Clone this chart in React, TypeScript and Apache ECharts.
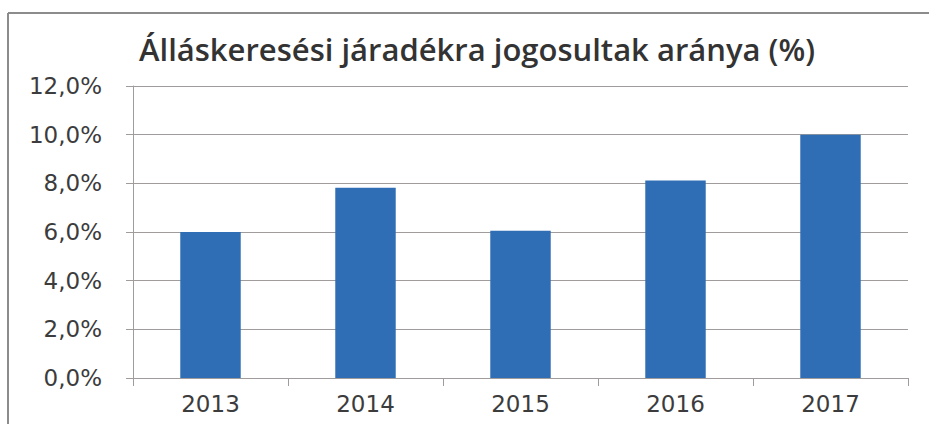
import React, { useEffect, useRef } from "react";
import * as echarts from "echarts";

const TITLE = "Álláskeresési járadékra jogosultak aránya (%)";
const YEARS = ["2013", "2014", "2015", "2016", "2017"];
const SHARE = [6.0, 7.82, 6.05, 8.12, 10.0];
const Y_MIN = 0;
const Y_MAX = 12;
const Y_STEP = 2;

export default function App() {
  const ref = useRef<HTMLDivElement>(null);
  useEffect(() => {
    if (!ref.current) return;
    const chart = echarts.init(ref.current, undefined, { renderer: "svg" });
    const gridColor = "#a09c9c";
    const textColor = "#3c3c3c";
    chart.setOption({
      animation: false,
      backgroundColor: "#ffffff",
      title: {
        text: TITLE,
        left: 472,
        top: 28,
        textAlign: "center",
        textStyle: {
          fontFamily: "Open Sans",
          fontWeight: 600,
          fontSize: 31,
          color: "#333333",
        },
      },
      graphic: [
        {
          type: "line",
          shape: { x1: 8, y1: 13, x2: 929, y2: 13 },
          style: { stroke: "#8c8c8c", lineWidth: 2 },
        },
        {
          type: "line",
          shape: { x1: 8, y1: 13, x2: 8, y2: 424 },
          style: { stroke: "#8c8c8c", lineWidth: 2 },
        },
      ],
      grid: { left: 133, right: 21, top: 86, bottom: 46, containLabel: false },
      xAxis: {
        type: "category",
        data: YEARS,
        boundaryGap: true,
        axisLine: { show: true, lineStyle: { color: gridColor, width: 1 } },
        axisTick: { show: true, length: 8, alignWithLabel: false, lineStyle: { color: gridColor } },
        axisLabel: {
          margin: 14,
          color: textColor,
          fontFamily: "DejaVu Sans",
          fontSize: 23,
        },
      },
      yAxis: {
        type: "value",
        min: Y_MIN,
        max: Y_MAX,
        interval: Y_STEP,
        axisLine: { show: true, lineStyle: { color: gridColor, width: 1 } },
        axisTick: { show: true, length: 7, lineStyle: { color: gridColor } },
        splitLine: { show: true, lineStyle: { color: gridColor, width: 1 } },
        axisLabel: {
          margin: 31,
          color: textColor,
          fontFamily: "DejaVu Sans",
          fontSize: 23,
          formatter: (v: number) => v.toFixed(1).replace(".", ",") + "%",
        },
      },
      series: [
        {
          type: "bar",
          data: SHARE,
          barWidth: "39%",
          itemStyle: { color: "#2f6eb5" },
        },
      ],
    });
    return () => chart.dispose();
  }, []);
  return (
    <div
      ref={ref}
      style={{ position: "fixed", left: 0, top: 0, width: 929, height: 424 }}
    />
  );
}
